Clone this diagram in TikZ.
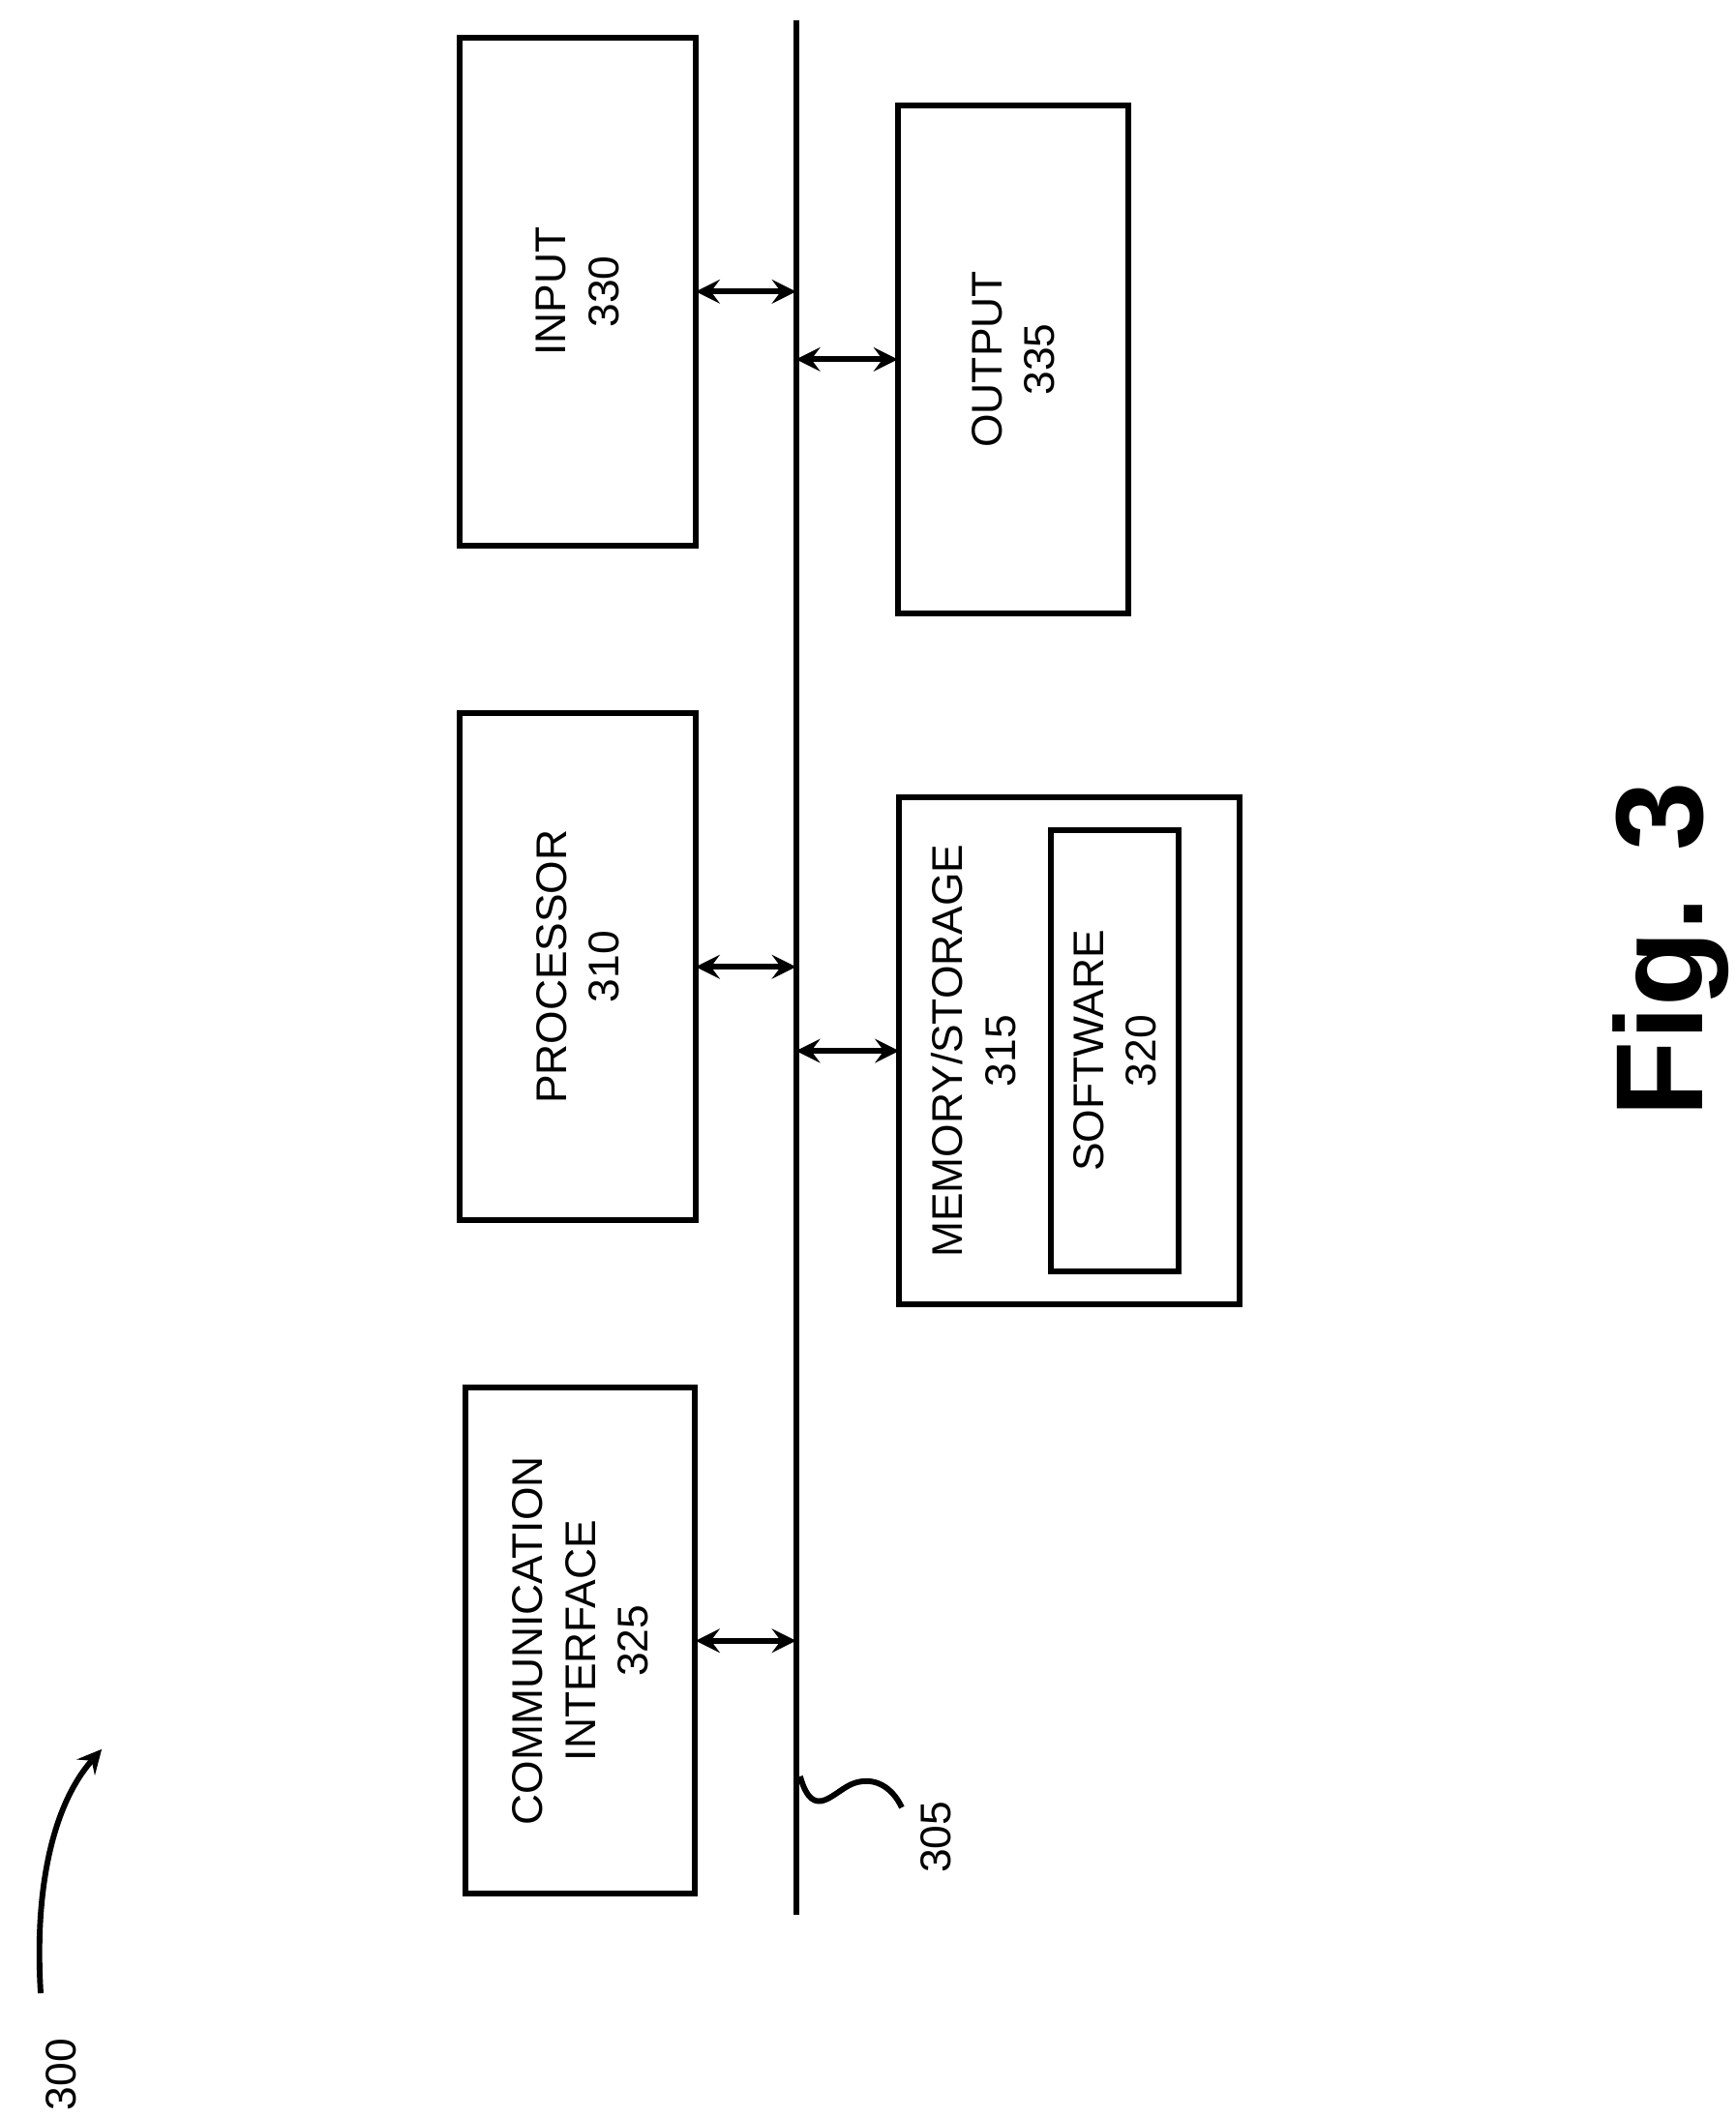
\documentclass[tikz,border=0pt]{standalone}
\usepackage{fontspec}
\setmainfont{Liberation Sans}
\usetikzlibrary{arrows}
\tikzstyle{block} = [draw=black, line width=1.2pt, rotate=90, align=center, font=\fontsize{9}{11}\selectfont, inner sep=0pt]
\tikzstyle{arrow} = [line width=1.2pt,<->,>=stealth]
\tikzstyle{lbl} = [rotate=90, font=\fontsize{9}{11}\selectfont]
\begin{document}
\begin{tikzpicture}[x=0.01cm, y=-0.01cm]
    \useasboundingbox (0,0) rectangle (1280,1562);

    % Bus
    \coordinate (bustop) at (587,15);
    \coordinate (busbot) at (587,1412);
    \draw [line width=1.2pt] (bustop) -- (busbot);

    % Blocks
    \node (input) [block, minimum width=3.74cm, minimum height=1.74cm] at (426,215) {INPUT\\330};
    \node (output) [block, minimum width=3.74cm, minimum height=1.70cm] at (747,265) {OUTPUT\\335};
    \node (proc) [block, minimum width=3.74cm, minimum height=1.74cm] at (426,713) {PROCESSOR\\310};
    \draw [line width=1.2pt] (663,588) rectangle (914,962);
    \node (mem) [lbl, align=center] at (718,775) {MEMORY/STORAGE\\315};
    \node (soft) [block, minimum width=3.25cm, minimum height=0.94cm] at (822,775) {SOFTWARE\\320};
    \node (comm) [block, minimum width=3.73cm, minimum height=1.69cm] at (428,1210) {COMMUNICATION\\INTERFACE\\325};

    % Flechas
    \draw [arrow] (513,215) -- (587,215);
    \draw [arrow] (587,265) -- (662,265);
    \draw [arrow] (513,713) -- (587,713);
    \draw [arrow] (587,775) -- (663,775);
    \draw [arrow] (513,1210) -- (587,1210);

    % Labels
    \draw [line width=1.2pt] (590,1310) .. controls (600,1345) and (615,1320) .. (630,1315) .. controls (645,1310) and (658,1318) .. (665,1333);
    \node (n305) [lbl] at (690,1355) {305};
    \node (n300) [lbl] at (45,1530) {300};
    \draw [line width=1.2pt,->,>=stealth] (30,1470) .. controls (25,1390) and (40,1330) .. (75,1290);
    \node (fig) [rotate=90, font=\fontsize{26}{30}\selectfont\bfseries] at (1232,700) {Fig. 3};
\end{tikzpicture}
\end{document}
